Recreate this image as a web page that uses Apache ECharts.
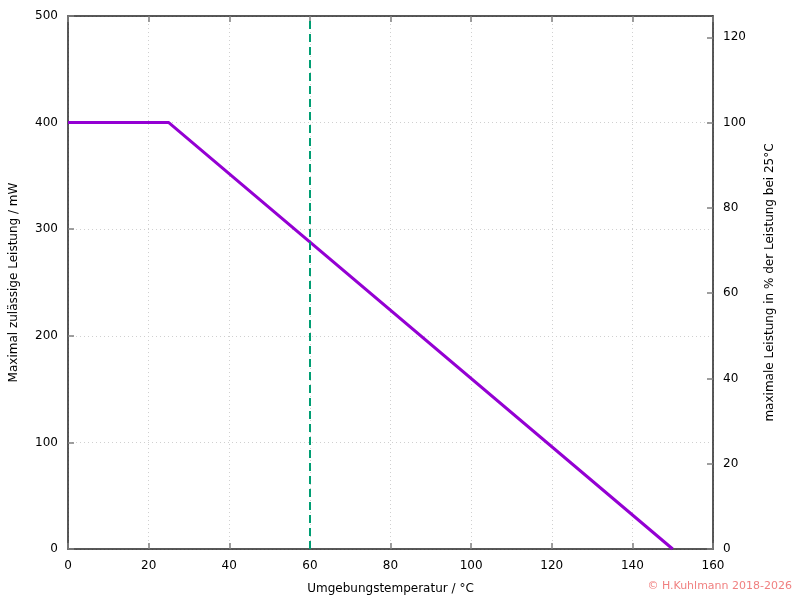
<!DOCTYPE html>
<html>
<head>
<meta charset="utf-8">
<script src="https://cdn.jsdelivr.net/npm/echarts@6/dist/echarts.min.js"></script>
<style>html,body{margin:0;padding:0;background:#fff}#c{width:800px;height:600px}</style>
</head>
<body>
<div id="c"></div>
<script>
const temperature = [0, 25, 150];
const power = [400, 400, 0];
const markerTemp = 60;
const xTicks = [0, 20, 40, 60, 80, 100, 120, 140, 160];
const leftTicks = [0, 100, 200, 300, 400, 500];
const rightTicks = [0, 20, 40, 60, 80, 100, 120];

const font = 'DejaVu Sans';
const chart = echarts.init(document.getElementById('c'));
const gridLine = {show: true, lineStyle: {color: '#d0d0d0', type: [1, 3], width: 1}};
const tick = {show: true, inside: true, length: 6, lineStyle: {color: '#808080', width: 1.5}};
chart.setOption({
  animation: false,
  textStyle: {fontFamily: font},
  grid: {left: 68, right: 87, top: 16, bottom: 49, show: false},
  xAxis: [{
    type: 'value', min: 0, max: 160, interval: 20, position: 'bottom',
    name: 'Umgebungstemperatur / °C', nameLocation: 'middle', nameGap: 34,
    nameTextStyle: {fontFamily: font, fontSize: 12, color: '#000'},
    axisLine: {show: true, onZero: false, lineStyle: {color: '#222', width: 1.5}},
    axisTick: Object.assign({}, tick, {customValues: xTicks}),
    axisLabel: {fontFamily: font, fontSize: 12, color: '#000', margin: 11, customValues: xTicks},
    splitLine: gridLine
  }, {
    type: 'value', min: 0, max: 160, interval: 20, position: 'top',
    axisLine: {show: true, onZero: false, lineStyle: {color: '#222', width: 1.5}},
    axisTick: Object.assign({}, tick, {customValues: xTicks}),
    axisLabel: {show: false},
    splitLine: {show: false}
  }],
  yAxis: [{
    type: 'value', min: 0, max: 500, interval: 100, position: 'left',
    name: 'Maximal zulässige Leistung / mW', nameLocation: 'middle', nameGap: 48, nameRotate: 90,
    nameTextStyle: {fontFamily: font, fontSize: 12, color: '#000'},
    axisLine: {show: true, onZero: false, lineStyle: {color: '#222', width: 1.5}},
    axisTick: Object.assign({}, tick, {customValues: leftTicks}),
    axisLabel: {fontFamily: font, fontSize: 12, color: '#000', margin: 10, customValues: leftTicks},
    splitLine: gridLine
  }, {
    type: 'value', min: 0, max: 125, position: 'right',
    name: 'maximale Leistung in % der Leistung bei 25°C', nameLocation: 'middle', nameGap: 51, nameRotate: 90,
    nameTextStyle: {fontFamily: font, fontSize: 12, color: '#000'},
    axisLine: {show: true, onZero: false, lineStyle: {color: '#222', width: 1.5}},
    axisTick: Object.assign({}, tick, {customValues: rightTicks}),
    axisLabel: {fontFamily: font, fontSize: 12, color: '#000', margin: 10, customValues: rightTicks},
    splitLine: {show: false}
  }],
  series: [{
    type: 'line',
    data: temperature.map((t, i) => [t, power[i]]),
    symbol: 'none',
    lineStyle: {color: '#9400d3', width: 3},
    markLine: {
      silent: true, symbol: 'none', label: {show: false},
      lineStyle: {color: '#009e73', width: 2, type: [8, 5]},
      data: [{xAxis: markerTemp}]
    }
  }],
  graphic: [{
    type: 'text', right: 8, top: 581,
    style: {text: '© H.Kuhlmann 2018-2026', fill: '#f08080', fontFamily: font, fontSize: 11}
  }]
});
</script>
</body>
</html>
